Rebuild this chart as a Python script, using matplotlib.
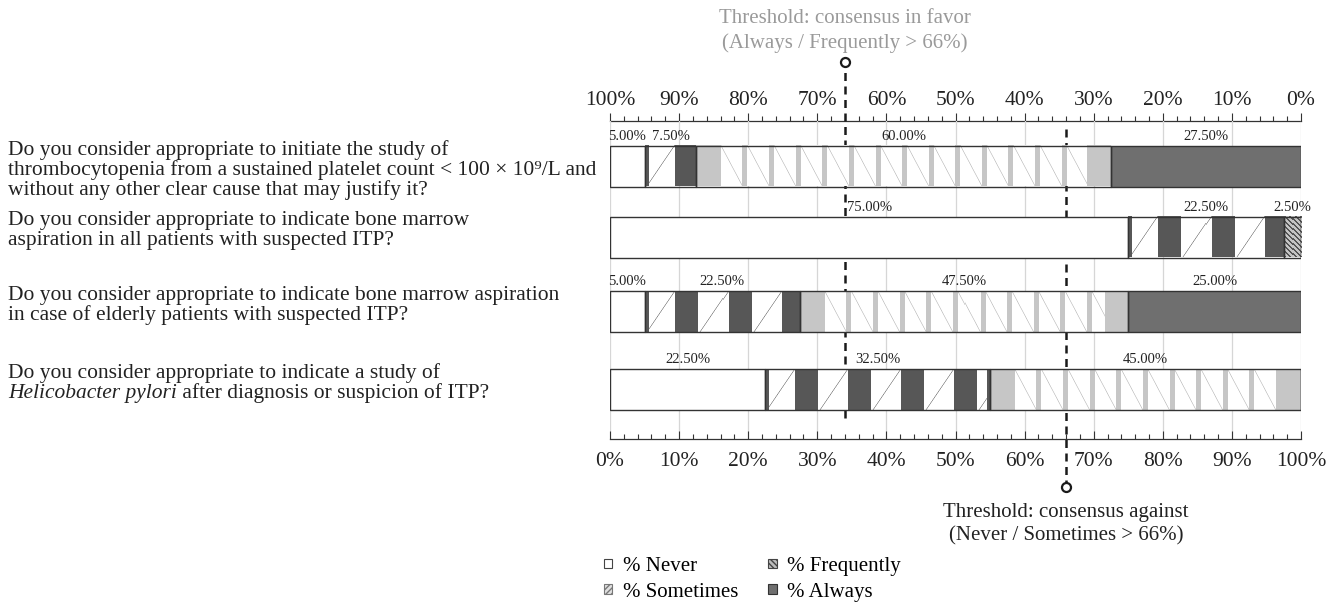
import numpy as np
import matplotlib
matplotlib.use("Agg")
import matplotlib.pyplot as plt
import matplotlib.colors as mcolors
import matplotlib.transforms as mtransforms
from matplotlib.patches import Patch
from matplotlib.ticker import FixedLocator, MultipleLocator, FuncFormatter

plt.rcParams['font.family'] = ['Liberation Serif', 'DejaVu Serif']

# ---- data ----
# *...* marks italic words
questions = [
    "Do you consider appropriate to initiate the study of\n"
    "thrombocytopenia from a sustained platelet count < 100 \u00d7 10\u2079/L and\n"
    "without any other clear cause that may justify it?",
    "Do you consider appropriate to indicate bone marrow\n"
    "aspiration in all patients with suspected ITP?",
    "Do you consider appropriate to indicate bone marrow aspiration\n"
    "in case of elderly patients with suspected ITP?",
    "Do you consider appropriate to indicate a study of\n"
    "*Helicobacter pylori* after diagnosis or suspicion of ITP?",
]
categories = ["% Never", "% Sometimes", "% Frequently", "% Always"]
never = [5.0, 75.0, 5.0, 22.5]
sometimes = [7.5, 22.5, 22.5, 32.5]
frequently = [60.0, 2.5, 47.5, 45.0]
always = [27.5, 0.0, 25.0, 0.0]
pct_ticks = list(range(0, 101, 10))
favor_threshold = 66      # Always / Frequently, read on the reversed top axis
against_threshold = 66    # Never / Sometimes, read on the bottom axis

# ---- layout (pixels of the 1334x603 canvas) ----
W, H = 1334, 603
AX_L, AX_R, AX_T, AX_B = 610, 1301, 121, 439
BAR_CENTRES = [166, 237, 311.5, 389.5]
BAR_H = 41
LINE_PX = 20
PX_PER_PCT = (AX_R - AX_L) / 100

fig = plt.figure(figsize=(W / 100, H / 100), dpi=100)
ax = fig.add_axes([AX_L / W, 1 - AX_B / H, (AX_R - AX_L) / W, (AX_B - AX_T) / H])
ypos = np.array(BAR_CENTRES) - AX_T   # y axis runs in pixels, top = 0


def _blend(img, mask, color):
    c = np.array(mcolors.to_rgb(color))
    m = np.broadcast_to(mask, img.shape[:2]).astype(float)[..., None]
    img[:] = img * (1 - m) + c * m


def _line(d, period):
    d = ((d + period / 2) % period) - period / 2
    return np.clip(1 - np.abs(d) / 0.9, 0, 1)


def texture_sometimes(w, h):
    i = np.arange(w)[None, :].astype(float)
    j = np.arange(h)[:, None].astype(float)
    img = np.ones((h, w, 3))
    _blend(img, _line(i + 0.68 * j - 29, 53), '#8c8c8c')
    dark = (((i - 30) % 53) < 23) | (i < 4) | (i >= w - 3)
    _blend(img, dark, '#575757')
    return img


def texture_frequently(w, h):
    i = np.arange(w)[None, :].astype(float)
    j = np.arange(h)[:, None].astype(float)
    img = np.ones((h, w, 3))
    if w < 40:
        _blend(img, np.ones((h, w)), '#c4c4c4')
        _blend(img, ((i - j) % 5) < 2, '#555555')
        return img
    _blend(img, _line(i - 0.53 * j + 2.1, 26.6), '#c9c9c9')
    light = (((i - 19.4) % 26.6) < 5) | (i < 22) | (i >= w - 24)
    _blend(img, light, '#c6c6c6')
    return img


fav_x = 100 - favor_threshold
series = [never, sometimes, frequently, always]
faces = ['white', None, None, '#6f6f6f']
textures = [None, texture_sometimes, texture_frequently, None]

lefts = np.zeros(len(questions))
for vals, face, tex in zip(series, faces, textures):
    vals = np.asarray(vals, dtype=float)
    ax.barh(ypos, vals, left=lefts, height=BAR_H,
            color=face if face else 'none', edgecolor='#333333',
            linewidth=1.0, zorder=4 if tex else 3)
    for yc, l, v in zip(ypos, lefts, vals):
        if v <= 0:
            continue
        if tex is not None:
            img = tex(max(1, int(round(v * PX_PER_PCT))), BAR_H)
            ax.imshow(img, extent=[l, l + v, yc + BAR_H / 2, yc - BAR_H / 2],
                      aspect='auto', interpolation='nearest', zorder=3)
        xc, ha = l + v / 2, 'center'
        if abs(xc - fav_x) < 3.5:          # keep label clear of the dashed line
            xc, ha = fav_x + 1.7, 'left'
        ax.annotate(f"{v:.2f}%", (xc, yc - BAR_H / 2), xytext=(0, 2),
                    textcoords='offset points', ha=ha, va='bottom',
                    fontsize=10.5, color='#222222', zorder=6)
    lefts += vals

# ---- axes ----
pct = FuncFormatter(lambda v, p: f"{v:.0f}%")
ax.set_xlim(0, 100)
ax.set_ylim(AX_B - AX_T, 0)
ax.set_yticks([])
ax.xaxis.set_major_locator(FixedLocator(pct_ticks))
ax.xaxis.set_minor_locator(MultipleLocator(2))
ax.xaxis.set_major_formatter(pct)
ax.tick_params(axis='x', which='both', direction='in', color='#333333',
               labelcolor='#222222', labelsize=15.5, pad=9, width=0.8)
ax.tick_params(axis='x', which='major', length=5.5)
ax.tick_params(axis='x', which='minor', length=3.5)
for s in ['left', 'right', 'top']:
    ax.spines[s].set_visible(False)
ax.spines['bottom'].set_color('#333333')
ax.spines['bottom'].set_linewidth(0.9)
ax.grid(axis='x', which='major', color='#d6d6d6', lw=0.9)
ax.set_axisbelow(True)

secax = ax.secondary_xaxis('top', functions=(lambda x: 100 - x, lambda x: 100 - x))
secax.xaxis.set_major_locator(FixedLocator(pct_ticks))
secax.xaxis.set_minor_locator(MultipleLocator(2))
secax.xaxis.set_major_formatter(pct)
secax.tick_params(axis='x', which='both', direction='out', color='#333333',
                  labelcolor='#222222', labelsize=15.5, pad=2.5, width=0.8)
secax.tick_params(axis='x', which='major', length=5.5)
secax.tick_params(axis='x', which='minor', length=3.5)
secax.spines['top'].set_color('#333333')
secax.spines['top'].set_linewidth(0.9)

# ---- thresholds ----
xt = ax.get_xaxis_transform()
ax.plot([fav_x, fav_x], [0.066, 1.1855], transform=xt, clip_on=False,
        color='#1a1a1a', lw=1.8, dashes=(3.2, 2.2), zorder=2)
ax.plot([fav_x], [1.1855], 'o', ms=6.5, mfc='white', mec='#1a1a1a', mew=1.6,
        transform=xt, clip_on=False, zorder=5)
ax.text(fav_x, 1.283, "Threshold: consensus in favor\n(Always / Frequently > 66%)",
        transform=xt, ha='center', va='center', color='#9a9a9a',
        fontsize=15, linespacing=1.3)

ax.plot([against_threshold] * 2, [0.975, -0.151], transform=xt, clip_on=False,
        color='#1a1a1a', lw=1.8, dashes=(3.2, 2.2), zorder=2)
ax.plot([against_threshold], [-0.151], 'o', ms=6.5, mfc='white', mec='#1a1a1a',
        mew=1.6, transform=xt, clip_on=False, zorder=5)
ax.text(against_threshold, -0.268, "Threshold: consensus against\n(Never / Sometimes > 66%)",
        transform=xt, ha='center', va='center', color='#222222',
        fontsize=15, linespacing=1.3)

# ---- questions (one text per line, italic runs chained on) ----
qtrans = mtransforms.blended_transform_factory(fig.transFigure, ax.transData)
qstyle = dict(fontsize=15.5, color='#222222')
for yc, q in zip(ypos, questions):
    for k, line in enumerate(q.split('\n')):
        ly = yc - BAR_H / 2 + 4.5 + k * LINE_PX
        prev = None
        for n, part in enumerate(line.split('*')):
            if not part:
                continue
            style = 'italic' if n % 2 else 'normal'
            if prev is None:
                prev = ax.text(8 / W, ly, part, transform=qtrans, ha='left',
                               va='center', fontstyle=style, **qstyle)
            else:
                prev = ax.annotate(part, xy=(1, 0.5), xycoords=prev, ha='left',
                                   va='center', fontstyle=style, **qstyle)

# ---- legend ----
handles = [
    Patch(facecolor='white', edgecolor='#444444', lw=0.8),
    Patch(facecolor='#e0e0e0', edgecolor='#777777', hatch='//////', lw=0.8),
    Patch(facecolor='#bdbdbd', edgecolor='#444444', hatch='\\\\\\\\\\\\', lw=0.8),
    Patch(facecolor='#6f6f6f', edgecolor='#333333', lw=0.8),
]
fig.legend(handles, categories, loc='upper left', bbox_to_anchor=(604 / W, 1 - 557 / H),
           ncol=2, frameon=False, fontsize=15, handlelength=0.4, handleheight=0.35,
           handletextpad=0.5, columnspacing=1.45, labelspacing=0.33,
           borderpad=0, borderaxespad=0)

fig.savefig("out.png", dpi=100)
